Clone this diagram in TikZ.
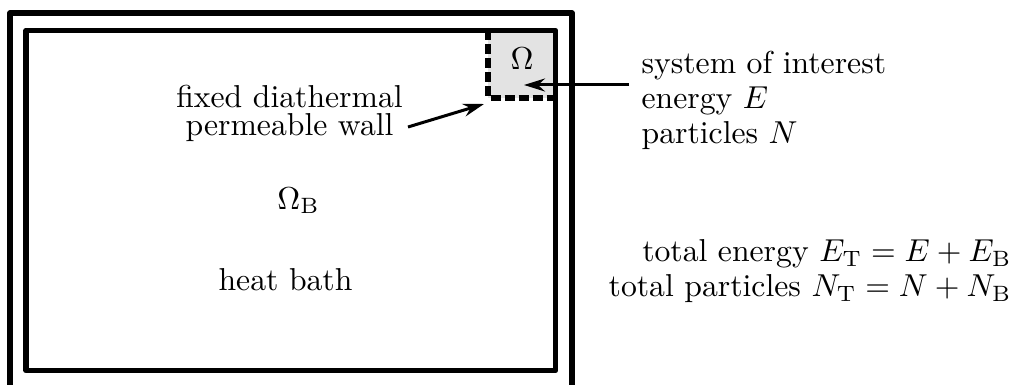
\documentclass[tikz,border=0pt]{standalone}
\usetikzlibrary{arrows.meta}
\begin{document}
\begin{tikzpicture}[x=1pt,y=-1pt,
  wall/.style={line width=5.5pt, line join=round},
  lbl/.style={scale=3.17, inner sep=0pt, font=\fontsize{10}{11}\selectfont},
  arr/.style={line width=3pt, -{Stealth[length=21pt,width=13pt,inset=7pt]}}]
\useasboundingbox (0,0) rectangle (1015,385);
% system box
\fill[gray!22] (488,30.5) rectangle (555.5,98);
% walls
\draw[wall] (10,400) -- (10,13) -- (572,13) -- (572,400);
\draw[wall] (26,30.5) rectangle (555.5,370.5);
\draw[wall, dash pattern=on 10pt off 4pt] (488,30.5) -- (488,98) -- (555.5,98);
% labels
\node[lbl, anchor=base] (om) at (522,70) {$\Omega$};
\node[lbl, align=left, anchor=north west] (sys) at (641,51) {system of interest\\energy $E$\\particles $N$};
\node[lbl, align=center, anchor=north, font=\fontsize{10}{8.8}\selectfont] (wallt) at (289.5,85) {fixed diathermal\\permeable wall};
\node[lbl, anchor=base] (omb) at (298.5,209) {$\Omega_{\mathrm{B}}$};
\node[lbl, anchor=base] (bath) at (285.5,290) {heat bath};
\node[lbl, align=right, anchor=north east] (tot) at (1012,239) {total energy $E_{\mathrm{T}}=E+E_{\mathrm{B}}$\\total particles $N_{\mathrm{T}}=N+N_{\mathrm{B}}$};
% arrows
\coordinate (a1s) at (629,85);
\coordinate (a1e) at (524,85);
\coordinate (a2s) at (408,127);
\coordinate (a2e) at (484,104);
\draw[arr] (a1s) -- (a1e);
\draw[arr] (a2s) -- (a2e);
\end{tikzpicture}
\end{document}
